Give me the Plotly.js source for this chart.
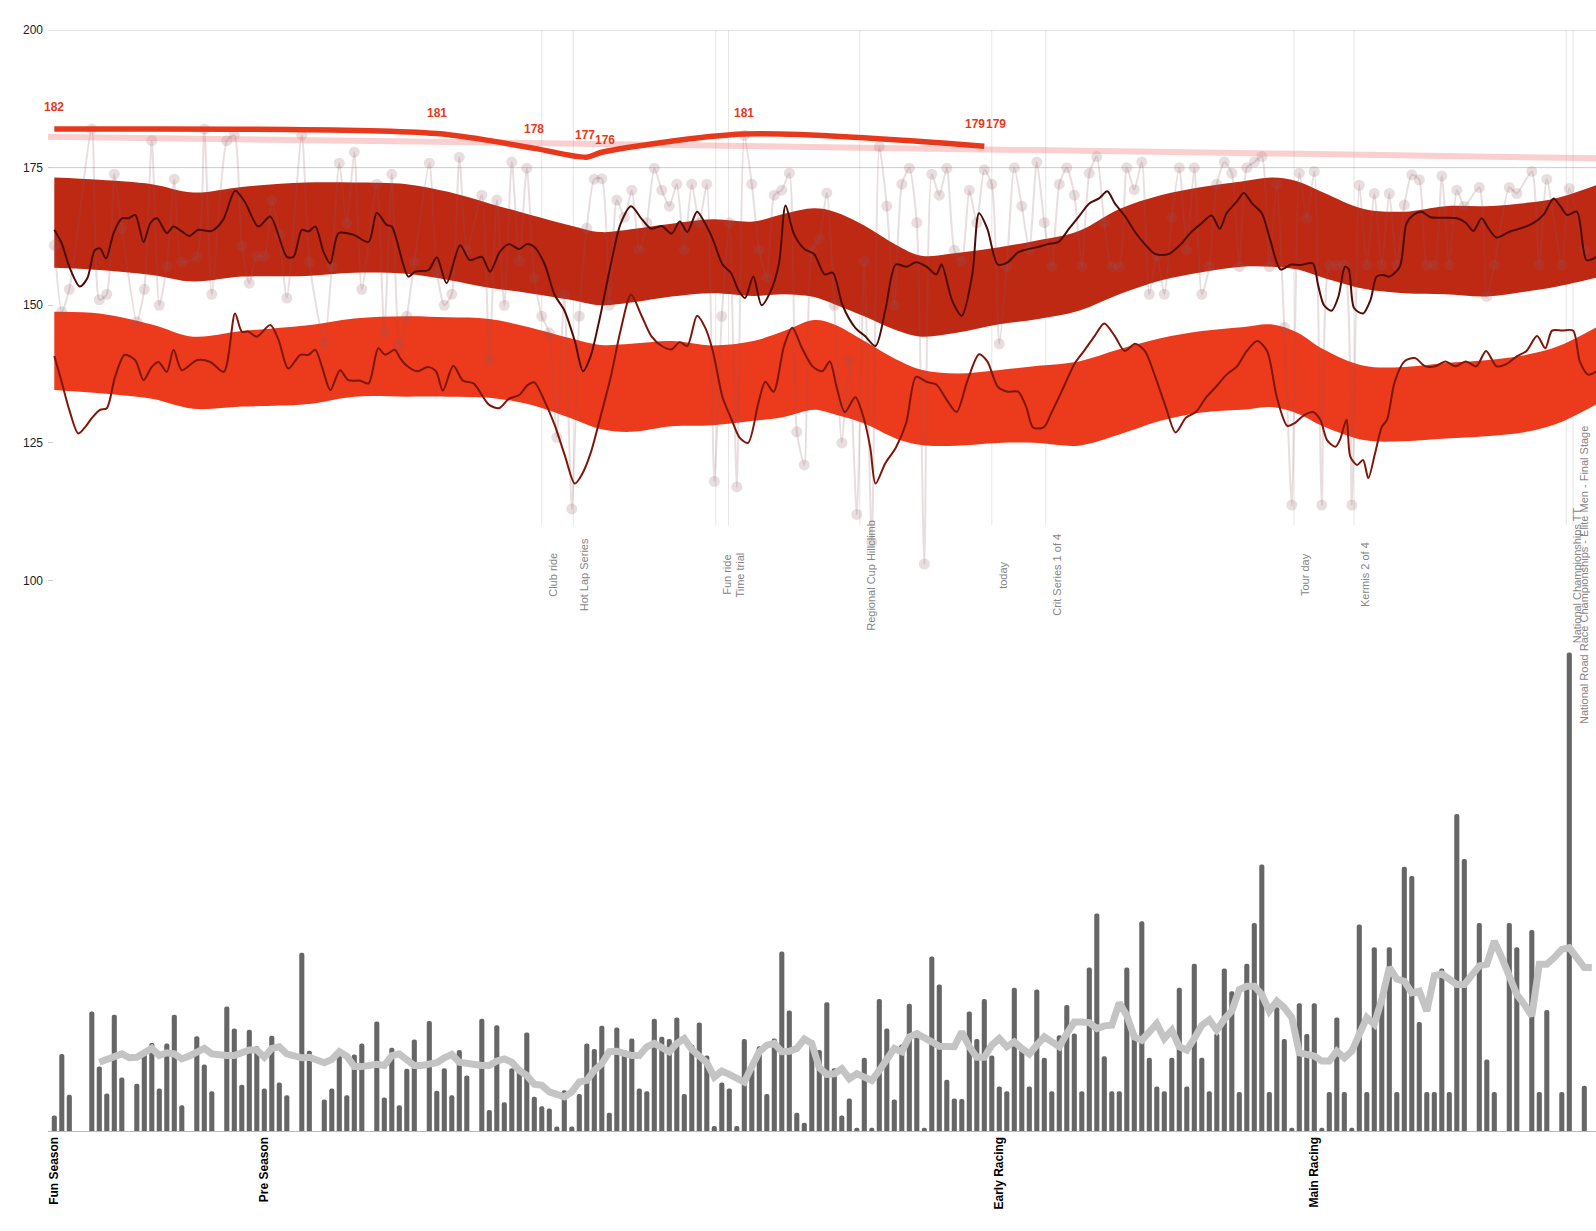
<!DOCTYPE html>
<html>
<head>
<meta charset="utf-8">
<script src="https://cdn.plot.ly/plotly-3.0.1.min.js"></script>
<style>
  html, body { margin: 0; padding: 0; background: #fff; }
  #chart { width: 1596px; height: 1231px; }
</style>
</head>
<body>
<div id="chart"></div>
<script>
// season markers on the bottom axis (day index)
const seasonDays = [0, 28, 126, 168];
const seasonNames = ['Fun Season', 'Pre Season', 'Early Racing', 'Main Racing'];
const yTickValues = [100, 125, 150, 175, 200];
const gridValues = [175, 200];

// daily training load, one value per day from day 0 (null = rest day)
const dailyLoad = [
  2.8, 14.0, 6.6, null, null, 21.7, 11.7, 6.8, 21.1, 9.7,
  null, 8.6, 14.5, 16.0, 7.7, 15.9, 21.1, 4.7, null, 17.2,
  12.1, 7.2, null, 22.6, 18.6, 8.4, 18.4, 15.4, 7.7, 17.3,
  8.8, 6.5, null, 32.4, 14.6, null, 5.7, 7.7, 14.8, 6.5,
  13.9, 15.9, null, 19.9, 6.1, 15.1, 4.7, 11.3, 16.6, null,
  20.0, 7.3, 11.4, 6.5, 14.7, 10.1, null, 20.4, 3.8, 19.2,
  5.2, 11.4, 11.2, 17.9, 6.2, 4.5, 4.1, 0.8, 7.4, 0.8,
  6.7, 15.9, 14.9, 19.1, 3.3, 18.8, 14.7, 16.8, 7.7, 7.2,
  20.4, 17.1, 16.7, 20.6, 6.7, 15.7, 19.7, 13.7, 0.9, 8.8,
  7.7, 0.9, 16.7, 11.4, 15.4, 6.7, 16.8, 32.6, 21.9, 3.3,
  1.5, 16.5, 14.7, 23.4, 11.4, 2.8, 5.9, 0.6, 13.3, 0.6,
  24.0, 18.6, 5.7, 15.7, 23.1, 17.2, 0.6, 31.7, 26.6, 9.3,
  5.9, 5.8, 21.7, 16.7, 24.0, 13.7, 8.1, 7.2, 26.0, 15.2,
  8.1, 25.7, 13.3, 7.2, 17.4, 22.9, 17.7, 7.2, 29.7, 39.5,
  13.6, 7.2, 7.2, 29.7, 17.4, 38.1, 13.3, 8.1, 7.2, 13.3,
  26.0, 8.1, 30.4, 13.3, 7.2, 17.7, 29.5, 25.4, 7.1, 30.4,
  37.8, 48.4, 7.1, 22.5, 16.7, 0.6, 23.2, 17.6, 23.2, 0.6,
  7.1, 20.6, 7.1, 0.6, 37.5, 7.1, 33.4, 24.2, 33.4, 7.1,
  48.0, 46.3, 19.8, 7.1, 7.1, 29.5, 7.1, 57.6, 49.4, null,
  37.8, 13.0, 7.1, null, 37.8, 33.4, null, 36.5, 7.1, 22.0,
  null, 7.1, 86.9, null, 8.2
];

// per-activity effort value (same days as the load)
const effortValues = [
  160.9, 148.8, 152.9, null, null, 182.0, 151, 152.0, 173.8, 164.0,
  null, 147, 152.9, 179.9, 150, 157.0, 172.9, 157.9, null, 158.8,
  182.0, 152.0, null, 179.9, 180.9, 160.8, 154.0, 158.9, 158.9, 169.0,
  162.8, 151.3, null, 180.9, 157.9, null, 143.1, 157.0, 175.8, 164.9,
  177.8, 152.9, null, 172.0, 145.2, 173.8, 142.8, 148, 157.9, null,
  175.8, 156.0, 150, 152.0, 176.9, 160, null, 170.0, 140, 169.1,
  150, 176.0, 158, 174.9, 155, 148, 145, 126, 152, 113,
  148, 164, 172.9, 173, 150, 169.1, 166, 170.9, 160, 165,
  174.9, 170.9, 168, 172, 160, 172.0, 165, 172.0, 118, 148,
  165, 117, 180.9, 172.0, 160, 155, 170.0, 170.9, 174.0, 127,
  121, 160, 162, 170.4, 150, 125, 140, 112, 158, 107,
  178.8, 168, 150, 172, 174.9, 165, 103, 173.8, 170, 174.9,
  160, 158, 170.9, 165, 174.6, 172, 143, 157, 175, 168,
  160, 176, 165, 157, 172, 175, 170, 157, 174, 177,
  165, 157, 157, 175, 171, 176, 152, 159, 152, 166,
  175, 160, 175, 152, 157, 172, 176, 174, 157, 175,
  176, 177, 157, 172, 146, 113.7, 174.0, 165.8, 174.3, 113.7,
  157.3, 157.3, 157.3, 113.7, 171.8, 157.3, 170.3, 157.3, 170.3, 157.3,
  168.2, 173.7, 172.8, 157.3, 157.3, 173.5, 157.3, 170.9, 168, null,
  171.4, 151.6, 157.3, null, 171.4, 170.3, null, 174.3, 157.3, 172.9,
  null, 157.3, 171.2, null, 160
];

// rolling load average, one value per day from day 0
const loadAverage = [
  null, null, null, null, null, null, 12.5, 13.1, 13.4, 14.0,
  13.3, 13.4, 14.2, 15.0, 13.7, 14.2, 14.0, 13.1, 13.6, 14.4,
  15.0, 14.0, 13.7, 13.7, 13.7, 14.2, 14.7, 14.7, 13.4, 15.0,
  15.3, 14.0, 13.6, 13.3, 13.4, 12.8, 12.4, 13.0, 14.4, 13.6,
  11.7, 11.7, 11.9, 12.1, 11.9, 13.7, 14.0, 13.0, 11.9, 11.9,
  12.0, 12.4, 13.3, 13.9, 12.5, 12.2, 12.0, 11.9, 11.9, 12.7,
  13.1, 12.5, 11.0, 10.1, 8.5, 8.3, 7.1, 6.5, 6.2, 7.1,
  8.9, 9.2, 11.0, 12.2, 14.4, 14.5, 14.0, 13.7, 13.7, 15.3,
  15.9, 15.0, 14.4, 15.9, 16.8, 14.8, 13.4, 12.4, 9.8, 10.9,
  10.3, 9.7, 8.9, 11.7, 14.4, 15.6, 15.9, 14.4, 14.5, 15.0,
  16.7, 15.9, 11.5, 10.3, 10.4, 11.3, 9.5, 10.4, 9.9, 9.2,
  11.0, 13.1, 15.0, 14.4, 17.1, 17.7, 16.8, 16.2, 15.4, 15.3,
  15.3, 18.0, 15.3, 13.4, 13.4, 15.6, 16.8, 15.3, 16.2, 15.0,
  14.0, 15.6, 17.1, 16.2, 15.3, 17.7, 19.8, 19.8, 19.7, 18.6,
  19.1, 19.2, 23.3, 21.0, 17.1, 16.5, 17.8, 19.5, 16.8, 18.3,
  15.3, 14.7, 16.8, 19.2, 20.2, 18.3, 20.3, 21.8, 25.7, 26.3,
  26.3, 24.8, 21.8, 23.6, 22.4, 20.6, 14.2, 13.9, 13.6, 12.7,
  12.7, 14.5, 13.3, 14.5, 17.6, 20.6, 19.4, 23.9, 29.7, 27.6,
  27.2, 25.1, 25.4, 21.8, 28.2, 28.5, 27.6, 26.6, 26.6, 28.2,
  30.0, 30.3, 34.5, 31.5, 27.9, 24.8, 23.0, 20.9, 30.3, 30.3,
  31.5, 33.0, 33.3, 31.5, 29.7, 29.7
];

// zone bands
const bandDays = [0, 6, 13, 18.5, 25, 33.5, 40, 47, 52.5, 58, 63.3, 68.8, 72.8, 76.9, 82.3, 87.8, 93.2, 97.3, 101.3, 104,
  108, 112.2, 115.6, 120.3, 125.8, 131.2, 136.6, 142, 147.5, 153, 158.3, 162.4, 165.8, 169.2, 174.6, 180, 185.5, 190.9, 196.3, 200.4, 205.6];
const upperBandTop = [173.2, 172.8, 172.0, 170.5, 171.5, 172.3, 172.3, 172.0, 170.6, 168.5, 166.5, 164.5, 163.3, 163.8, 164.8, 165.6, 165.2, 166.6, 167.6, 167.0,
  164.5, 161.0, 159.0, 159.5, 160.5, 161.8, 163.5, 167.5, 170.0, 171.5, 172.5, 173.2, 172.5, 170.5, 167.5, 167.0, 168.0, 168.0, 168.6, 169.5, 171.8];
const upperBandBottom = [156.8, 156.4, 155.5, 154.3, 155.2, 155.3, 155.9, 155.7, 154.6, 153.2, 152.2, 151.0, 150.0, 150.5, 151.6, 152.2, 151.7, 152.0, 151.5, 150.2,
  148.0, 145.5, 144.3, 145.0, 146.5, 147.5, 149.0, 152.0, 154.5, 156.0, 157.0, 157.0, 156.5, 155.0, 153.0, 152.2, 152.0, 151.6, 152.5, 153.4, 155.0];
const lowerBandTop = [148.8, 148.5, 146.5, 144.3, 145.3, 146.3, 147.6, 148.0, 147.8, 147.5, 146.0, 144.0, 142.8, 143.0, 143.5, 142.7, 143.5, 145.3, 147.3, 146.5,
  143.5, 140.2, 138.3, 137.6, 138.2, 139.0, 139.8, 142.0, 144.0, 145.3, 146.0, 146.5, 145.0, 142.0, 139.0, 138.8, 139.5, 140.0, 141.0, 142.5, 146.0];
const lowerBandBottom = [134.6, 134.0, 133.0, 131.2, 131.6, 132.0, 133.4, 133.4, 133.4, 133.2, 132.0, 129.5, 127.5, 127.0, 128.0, 128.2, 129.0, 129.7, 131.0, 130.2,
  128.5, 125.8, 124.6, 124.5, 125.0, 125.0, 124.5, 126.5, 129.0, 130.5, 131.0, 131.5, 130.3, 128.0, 125.5, 125.3, 125.8, 126.2, 127.0, 128.5, 132.0];

// smoothed trend lines inside the bands
const upperLineDays = [0, 1, 2, 3.4, 4.4, 5.4, 6.1, 6.9, 7.9, 9, 9.9, 10.8, 11.9, 12.8, 13.7, 15, 15.9, 17, 18, 19.2, 21, 22.5, 24.1, 25.4, 27.2, 28.8,
  31, 31.9, 33, 33.9, 34.8, 35.9, 36.8, 37.9, 39.9, 41.9, 43, 44.3, 45, 47.2, 48.1, 49.9, 51, 52.3, 54.1, 55.4, 57, 58.1, 59.4, 60.6, 62, 63, 64,
  65.4, 66.7, 68, 69.4, 70.5, 71.5, 72.8, 74.2, 75.5, 76.9, 78.3, 79.6, 81, 82.3, 83.4, 84.4, 85.7, 86.8, 87.8, 89.1, 90.2, 91.2, 92.1, 93.2, 94.3,
  95.4, 96.6, 97.5, 98.6, 100, 101.3, 102.7, 103.8, 105.1, 106.8, 108.1, 109.5, 110.8, 112.2, 113.6, 114.9, 116.3, 117.6, 118.3, 119.7, 121, 122.4,
  123.3, 124.4, 125.8, 127.1, 128.5, 129.8, 131.2, 132.5, 133.9, 135.3, 136.6, 138, 139.3, 140.4, 141.4, 142.7, 144.1, 145.4, 146.8, 148.6, 150.2,
  151.6, 152.9, 154.3, 155.4, 156.3, 157.7, 158.6, 159.7, 161, 162.1, 163.5, 164.9, 166.1, 167.8, 168.5, 169.3, 170.3, 171.2, 172.1, 172.6, 173.3,
  174.5, 175.5, 176.3, 177.2, 178, 179.4, 180.3, 181.3, 182.3, 183.5, 185, 187, 188.2, 189.2, 190.3, 191.2, 192.3, 194.1, 195.6, 197.2, 198.6,
  199.9, 200.8, 201.7, 203, 204.3, 205.6];
const upperLineValues = [163.7, 161.2, 157.0, 153.4, 154.9, 160.0, 160.3, 158.5, 163.1, 165.8, 165.8, 166.4, 161.5, 164.9, 165.8, 163.1, 164.3, 163.4, 162.6, 163.7, 163.5, 165.5, 170.8, 168.8, 164.3, 166.1,
  158.8, 158.8, 163.7, 163.4, 164.3, 159.7, 157.6, 163.1, 162.8, 161.5, 166.8, 164.6, 164.3, 155.2, 156.1, 156.4, 158.7, 154.0, 160.9, 158.2, 158.8, 156.1, 159.7, 161.1, 160.2, 161.1, 160.6,
  157.4, 151.9, 149.1, 143.5, 138.0, 140.7, 148.1, 157.4, 164.8, 168.0, 165.7, 163.9, 164.4, 163.0, 165.2, 163.3, 167.0, 164.8, 162.0, 157.4, 155.9, 152.8, 151.3, 155.2, 150.0,
  152.2, 157.4, 168.1, 163.0, 160.2, 159.3, 155.6, 155.9, 150.0, 145.9, 144.4, 142.6, 149.1, 157.4, 157.0, 157.8, 157.0, 155.6, 157.4, 150.9, 148.1, 155.6,
  166.7, 163.9, 157.4, 157.8, 159.6, 160.2, 160.6, 161.1, 161.5, 163.9, 166.1, 168.5, 169.4, 170.7, 168.5, 166.3, 163.3, 161.1, 159.3, 159.3, 161.1,
  163.3, 164.8, 166.3, 163.9, 166.7, 168.9, 170.4, 168.5, 166.7, 162.0, 156.5, 157.4, 157.3, 157.6, 153.7, 150.0, 149.0, 151.5, 157.0, 156.5, 149.5,
  148.5, 151.0, 155.2, 155.5, 155.2, 157.0, 164.9, 166.5, 167.0, 166.0, 165.9, 165.8, 165.0, 163.5, 165.8, 164.0, 162.3, 163.4, 164.0, 164.9, 166.5,
  169.4, 168.0, 166.4, 167.0, 158.2, 158.8];

const lowerLineDays = [0, 1, 2, 3.2, 4.2, 5, 6.1, 7, 8.1, 9.4, 10.8, 11.9, 13, 13.9, 15, 15.9, 17, 19, 20.8, 22.6, 24.1, 25, 25.9, 27, 28.8, 29.9,
  31.2, 32.8, 33.9, 34.8, 35.7, 36.8, 38.1, 39.2, 40.8, 41.9, 43.2, 44.1, 45.4, 46.1, 47, 48.4, 49.8, 50.9, 51.8, 53.2, 54.5, 55.9, 57.9, 59.3,
  60.6, 62, 63.1, 64, 65.4, 66.7, 68.1, 69.4, 70.4, 71.5, 72.8, 74.2, 75.5, 76.9, 78.3, 79.6, 81, 82.3, 83.4, 84.4, 85.7, 86.8, 87.8, 89.1, 90.2,
  91.4, 92.5, 93.9, 94.8, 95.9, 97.3, 98.4, 99.7, 101.1, 102.4, 103.4, 104.3, 105.4, 106.8, 107.9, 108.8, 109.5, 110.8, 112.2, 113.6, 114.9, 116.3,
  117.6, 118.9, 120.3, 121.7, 123.3, 124.4, 125.8, 127.1, 128.5, 129.6, 130.5, 131.9, 133, 134.6, 136, 137.3, 138.7, 140, 141.4, 142.7, 144.1,
  145.4, 146.8, 148.2, 149.5, 150.9, 152.2, 153.6, 154.9, 156.3, 157.7, 159, 160.4, 161.7, 163, 164.4, 165.4, 166.6, 167.8, 168.8, 169.7, 170.8,
  171.4, 172.3, 172.8, 173.7, 174.5, 175.2, 176.1, 177, 177.7, 178.7, 180, 181.4, 182.8, 184.1, 185.5, 186.8, 188.2, 189.6, 190.9, 192.3, 193.6,
  195, 196.3, 197.7, 198.8, 199.7, 201.1, 202.5, 203.4, 204.5, 205.6];
const lowerLineValues = [140.8, 136, 131, 126.7, 128, 129.5, 131, 131.3, 137, 141, 140, 136.4, 138.8, 139.7, 137.9, 141.9, 138.2, 140, 139.7, 137.9, 148.5, 145.2, 145.2, 144.3, 146.4, 143.7,
  138.5, 141, 141, 141.9, 138.8, 134.6, 138.2, 136.4, 136.3, 135.8, 142.2, 141, 141.9, 140.4, 139, 138, 138.8, 138, 134.5, 139, 136.3, 135.8, 132, 131.3,
  133, 133.7, 135.5, 136, 132.5, 128.3, 122.6, 117.6, 119.4, 123.1, 129.6, 137.0, 145.4, 151.9, 148.1, 144.4, 142.6, 142.0, 143.3, 142.6, 148.1, 145.9, 141.7, 133.3, 129.6,
  125.9, 125.0, 132.4, 136.1, 134.3, 142.6, 145.9, 142.2, 138.9, 138.0, 139.8, 135.2, 130.6, 133.3, 129.6, 124.1, 117.6, 121.3, 124.1, 128.7, 137.0, 136.1,
  135.6, 133.0, 130.6, 136.1, 141.1, 139.8, 135.2, 134.3, 134.3, 131.5, 127.8, 127.8, 130.6, 135.2, 139.3, 141.7, 144.4, 146.7, 144.4, 141.7, 143.0,
  141.7, 137.0, 131.5, 126.9, 129.6, 130.6, 133.3, 135.2, 137.4, 138.9, 141.7, 143.5, 141.7, 133.3, 128.1, 128.6, 130.0, 130.6, 129.2, 125.5, 124.3,
  125.5, 129.2, 122.5, 121.0, 121.9, 118.6, 123.1, 127.9, 129.2, 136.0, 139.8, 140.4, 138.9, 138.9, 139.8, 138.9, 139.8, 138.9, 141.7, 138.9, 139.3,
  140.7, 141.7, 144.4, 142.2, 145.4, 145.4, 145.4, 139.8, 137.4, 138.0];

// threshold line with its labelled points, and the long-term reference
const thresholdDays = [0, 51, 64, 71, 73, 92, 124];
const thresholdValues = [182.0, 181.2, 178.5, 176.9, 177.8, 181.1, 178.9];
const thresholdLabelDays = [0, 51, 64, 70.8, 73.4, 92, 122.8, 125.5];
const thresholdLabels = ['182', '181', '178', '177', '176', '181', '179', '179'];
const referenceDays = [-0.84, 50.5, 166, 205.6];
const referenceValues = [180.6, 179.7, 177.5, 176.7];

// events
const eventDays = [65, 69.2, 88.2, 89.9, 107.4, 125, 132.2, 165.3, 173.3, 201.6, 202.5];
const eventNames = ['Club ride', 'Hot Lap Series', 'Fun ride', 'Time trial', 'Regional Cup Hillclimb', 'today',
  'Crit Series 1 of 4', 'Tour day', 'Kermis 2 of 4', 'National Championships TT',
  'National Road Race Championships - Elite Men - Final Stage'];

(() => {
  const COLORS = {
    upperBand: '#be2914',
    lowerBand: '#ec3a1c',
    upperLine: '#4f0c05',
    lowerLine: '#7e170a',
    threshold: '#e8381b',
    reference: 'rgba(240, 128, 128, 0.38)',
    effort: 'rgba(140, 90, 96, 0.2)',
    bars: '#666666',
    average: '#c4c4c4',
    grid: '#cccccc'
  };
  const FONT = 'Liberation Sans, Arial, sans-serif';
  const dayIndex = dailyLoad.map((_, day) => day);

  function bandPair(top, bottom, color) {
    return [
      {
        type: 'scatter', mode: 'lines', x: bandDays, y: bottom,
        line: { width: 0, shape: 'spline', smoothing: 1 }, hoverinfo: 'skip', showlegend: false
      },
      {
        type: 'scatter', mode: 'lines', x: bandDays, y: top, fill: 'tonexty', fillcolor: color,
        line: { width: 0, shape: 'spline', smoothing: 1 }, hoverinfo: 'skip', showlegend: false
      }
    ];
  }

  function lineTrace(x, y, color, width, shape) {
    return {
      type: 'scatter', mode: 'lines', x, y, showlegend: false, hoverinfo: 'skip',
      line: { color, width, shape: shape || 'spline', smoothing: 0.8 }
    };
  }

  const traces = [
    lineTrace(dayIndex.concat([205]), loadAverage, COLORS.average, 7, 'linear'),
    {
      type: 'bar', x: dayIndex, y: dailyLoad, width: 0.68, showlegend: false,
      marker: { color: COLORS.bars, cornerradius: 2 }
    },
    ...bandPair(upperBandTop, upperBandBottom, COLORS.upperBand),
    ...bandPair(lowerBandTop, lowerBandBottom, COLORS.lowerBand),
    {
      type: 'scatter', mode: 'lines+markers', x: dayIndex, y: effortValues, connectgaps: true,
      showlegend: false, hoverinfo: 'skip',
      line: { color: COLORS.effort, width: 2, shape: 'spline', smoothing: 0.6 },
      marker: { color: COLORS.effort, size: 11 }
    },
    lineTrace(upperLineDays, upperLineValues, COLORS.upperLine, 2),
    lineTrace(lowerLineDays, lowerLineValues, COLORS.lowerLine, 2),
    lineTrace(referenceDays, referenceValues, COLORS.reference, 6),
    lineTrace(thresholdDays, thresholdValues, COLORS.threshold, 5.5)
  ];

  const shapes = gridValues.map((value) => ({
    type: 'line', xref: 'paper', x0: 0, x1: 1, y0: value, y1: value, layer: 'below',
    line: { color: COLORS.grid, width: 1 }
  })).concat(eventDays.map((day) => ({
    type: 'line', x0: day, x1: day, y0: 110, y1: 200, layer: 'below',
    line: { color: 'rgba(150, 130, 130, 0.22)', width: 1 }
  })));

  const annotations = thresholdLabelDays.map((day, i) => ({
    x: day, y: Number(thresholdLabels[i]), yshift: 22, text: '<b>' + thresholdLabels[i] + '</b>',
    showarrow: false, font: { family: FONT, size: 12, color: COLORS.threshold }
  })).concat(eventDays.map((day, i) => ({
    x: day, y: 101, xanchor: 'left', yanchor: 'middle', xshift: 3, textangle: -90,
    text: eventNames[i], showarrow: false, font: { family: FONT, size: 11, color: '#858585' }
  })));

  const layout = {
    width: 1596,
    height: 1231,
    margin: { l: 48, r: 0, t: 30, b: 100 },
    paper_bgcolor: '#ffffff',
    plot_bgcolor: '#ffffff',
    showlegend: false,
    font: { family: FONT, color: '#222222' },
    xaxis: {
      range: [-0.84, 205.56],
      showgrid: false,
      zeroline: false,
      showline: true,
      linecolor: '#eba3a3',
      linewidth: 1,
      ticks: '',
      tickvals: seasonDays,
      ticktext: seasonNames.map((name) => '<b>' + name + '</b>'),
      tickangle: -90,
      tickfont: { family: FONT, size: 12, color: '#000000' }
    },
    yaxis: {
      range: [0, 200],
      showgrid: false,
      zeroline: false,
      showline: false,
      ticks: 'inside',
      ticklen: 5,
      tickcolor: COLORS.grid,
      ticklabelstandoff: 4,
      tickvals: yTickValues,
      tickfont: { family: FONT, size: 12, color: '#222222' }
    },
    shapes,
    annotations
  };

  Plotly.newPlot('chart', traces, layout, { displayModeBar: false, staticPlot: true });
})();
</script>
</body>
</html>
